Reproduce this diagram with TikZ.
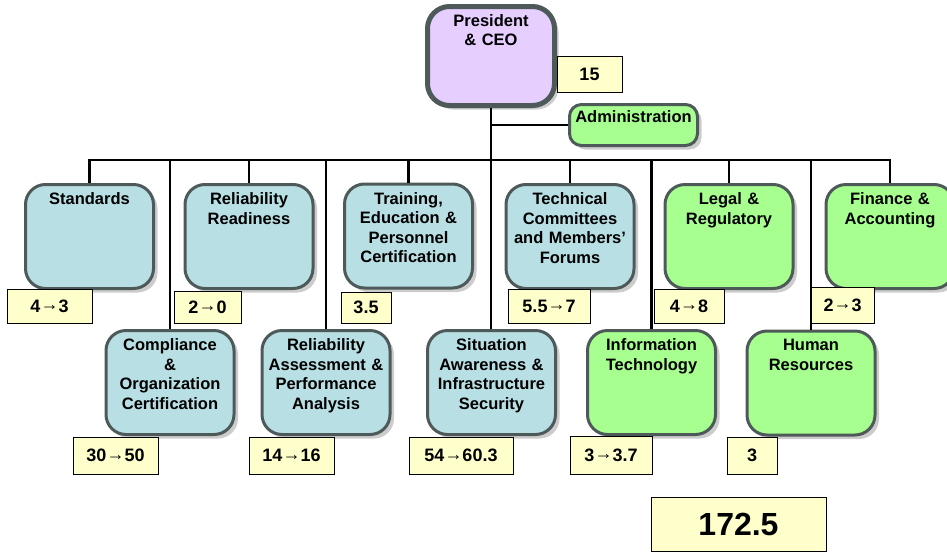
\documentclass[tikz,border=0pt]{standalone}
\usepackage{fontspec}
\setmainfont{Liberation Sans}
\usetikzlibrary{positioning,shadows}
\definecolor{unitblue}{HTML}{B8DFE3}
\definecolor{unitgreen}{HTML}{A6FF8F}
\definecolor{ceopurple}{HTML}{E6CFFF}
\definecolor{unitedge}{HTML}{4E5A5A}
\definecolor{tagyellow}{HTML}{FFFFCC}
\newcommand{\tagto}{\raisebox{1.5pt}{→}}
\begin{document}
\begin{tikzpicture}[x=1pt,y=-1pt,
                        unit/.style={shape=rectangle,rounded corners=20,draw=unitedge,line width=3,
                                     minimum width=128,minimum height=104,
                                     drop shadow={shadow xshift=4pt,shadow yshift=-4pt,fill=black!40,opacity=.5}},
                        blueunit/.style={unit,fill=unitblue},
                        greenunit/.style={unit,fill=unitgreen},
                        head/.style={anchor=north,inner sep=0,align=center,text width=126,
                                     font=\fontsize{16.5}{19.5}\selectfont\bfseries},
                        tag/.style={shape=rectangle,draw=black,fill=tagyellow,line width=1,inner sep=0,
                                    minimum height=34,font=\fontsize{18}{20}\selectfont\bfseries},
                        wire/.style={line width=2.5,black}]
                        \useasboundingbox (0,0) rectangle (947,552);
                        \node[unit,fill=ceopurple,line width=5,rounded corners=22,minimum width=127,minimum height=99] at (491,56) (ceo) {};
                        \node[greenunit,rounded corners=12,minimum height=41] at (633.5,125) (admin) {};
                        \node[blueunit] at (89.5,236.5) (std) {};
                        \node[blueunit] at (249,236.5) (rr) {};
                        \node[blueunit] at (408.5,236) (train) {};
                        \node[blueunit] at (570,236.5) (tech) {};
                        \node[greenunit] at (729,236.5) (legal) {};
                        \node[greenunit] at (890,236.5) (fin) {};
                        \node[blueunit] at (170,382.5) (comp) {};
                        \node[blueunit] at (326,382.5) (ra) {};
                        \node[blueunit] at (491.5,382.5) (sa) {};
                        \node[greenunit] at (651.5,382.5) (it) {};
                        \node[greenunit] at (811,383) (hr) {};
                        \node[head,below=10pt of ceo.north] (ceo-t) {President\\\& CEO};
                        \node[head,below=7.5pt of admin.north] (admin-t) {Administration};
                        \node[head,below=9.5pt of std.north] (std-t) {Standards};
                        \node[head,below=9.5pt of rr.north] (rr-t) {Reliability\\Readiness};
                        \node[head,below=9.5pt of train.north] (train-t) {Training,\\Education \&\\Personnel\\Certification};
                        \node[head,below=9.5pt of tech.north] (tech-t) {Technical\\Committees\\and Members’\\Forums};
                        \node[head,below=9.5pt of legal.north] (legal-t) {Legal \&\\Regulatory};
                        \node[head,below=9.5pt of fin.north] (fin-t) {Finance \&\\Accounting};
                        \node[head,below=9.5pt of comp.north] (comp-t) {Compliance\\\&\\Organization\\Certification};
                        \node[head,below=9.5pt of ra.north] (ra-t) {Reliability\\Assessment \&\\Performance\\Analysis};
                        \node[head,below=9.5pt of sa.north] (sa-t) {Situation\\Awareness \&\\Infrastructure\\Security};
                        \node[head,below=9.5pt of it.north] (it-t) {Information\\Technology};
                        \node[head,below=9.5pt of hr.north] (hr-t) {Human\\Resources};
                        \coordinate (bar) at (0,160);
                        \draw[wire] (std.north) -- (std.north |- bar) -- (fin.north |- bar) -- (fin.north);
                        \foreach \u in {rr,train,tech,legal,comp,ra,it,hr}
                            \draw[wire] (\u.north) -- (\u.north |- bar);
                        \draw[wire] (ceo.south) -- (ceo.south |- sa.north);
                        \draw[wire] (admin.west) -- (admin.west -| ceo.south);
                        \node[tag,minimum width=65,minimum height=36] at (589.5,74) (ceo-n) {15};
                        \node[tag,minimum width=85] at (49.5,306) (std-n) {4\tagto3};
                        \node[tag,minimum width=67,minimum height=32] at (207.5,307) (rr-n) {2\tagto0};
                        \node[tag,minimum width=50,minimum height=31] at (366,307.5) (train-n) {3.5};
                        \node[tag,minimum width=82] at (549,306) (tech-n) {5.5\tagto7};
                        \node[tag,minimum width=70] at (689,306) (legal-n) {4\tagto8};
                        \node[tag,minimum width=63,minimum height=36] at (842.5,305) (fin-n) {2\tagto3};
                        \node[tag,minimum width=85,minimum height=37] at (115.5,455.5) (comp-n) {30\tagto50};
                        \node[tag,minimum width=85,minimum height=37] at (291.5,455.5) (ra-n) {14\tagto16};
                        \node[tag,minimum width=104,minimum height=37] at (461,455.5) (sa-n) {54\tagto60.3};
                        \node[tag,minimum width=82,minimum height=38] at (611,455) (it-n) {3\tagto3.7};
                        \node[tag,minimum width=50,minimum height=37] at (752,455.5) (hr-n) {3};
                        \node[tag,minimum width=175,minimum height=54,font=\fontsize{32}{36}\selectfont\bfseries] at (738.5,524) (total) {172.5};
                \end{tikzpicture}
\end{document}
